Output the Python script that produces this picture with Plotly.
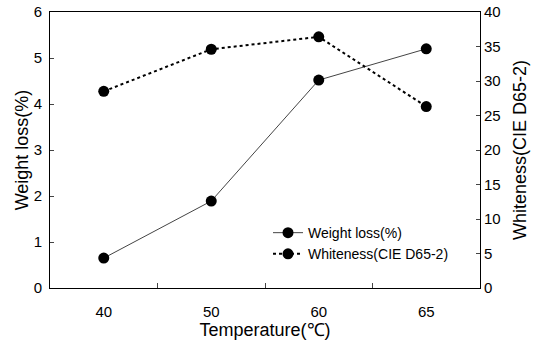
import plotly.graph_objects as go

temperature = ["40", "50", "60", "65"]
weight_loss = [0.65, 1.89, 4.52, 5.2]
whiteness = [28.5, 34.6, 36.4, 26.3]

font = dict(family="Liberation Sans, Arial, sans-serif", size=15, color="black")

fig = go.Figure()
fig.add_trace(go.Scatter(
    x=temperature, y=weight_loss, name="Weight loss(%)",
    mode="lines+markers",
    line=dict(color="#444444", width=1),
    marker=dict(color="black", size=11),
))
fig.add_trace(go.Scatter(
    x=temperature, y=whiteness, name="Whiteness(CIE D65-2)",
    mode="lines+markers", yaxis="y2",
    line=dict(color="black", width=2, dash="dot"),
    marker=dict(color="black", size=11),
))

fig.update_layout(
    width=537, height=347,
    margin=dict(l=50, r=57, t=12, b=59, autoexpand=False),
    paper_bgcolor="white", plot_bgcolor="white",
    font=font,
    showlegend=True,
    legend=dict(x=0.507, y=0.257, xanchor="left", yanchor="top",
                bgcolor="rgba(0,0,0,0)", font=dict(size=14),
                tracegroupgap=4),
    xaxis=dict(
        type="category", range=[-0.5, 3.5], automargin=False,
        tickson="boundaries", ticks="inside", ticklen=5,
        ticklabelstandoff=10,
        showline=True, linecolor="black", linewidth=1, mirror=True,
        showgrid=False, zeroline=False,
        title=dict(text="Temperature(℃)", standoff=3),
    ),
    yaxis=dict(
        range=[0, 6], dtick=1, ticks="inside", ticklen=4, automargin=False,
        ticklabelstandoff=4,
        showline=True, linecolor="black", linewidth=1,
        showgrid=False, zeroline=False,
        title=dict(text="Weight loss(%)", standoff=0),
    ),
    yaxis2=dict(
        range=[0, 40], dtick=5, ticks="inside", ticklen=4, automargin=False,
        overlaying="y", side="right",
        showline=True, linecolor="black", linewidth=1,
        showgrid=False, zeroline=False,
        title=dict(text="Whiteness(CIE D65-2)", standoff=13),
    ),
)

fig.write_html("out.html", post_script="document.body.style.margin='0';",
               config={"displayModeBar": False})
